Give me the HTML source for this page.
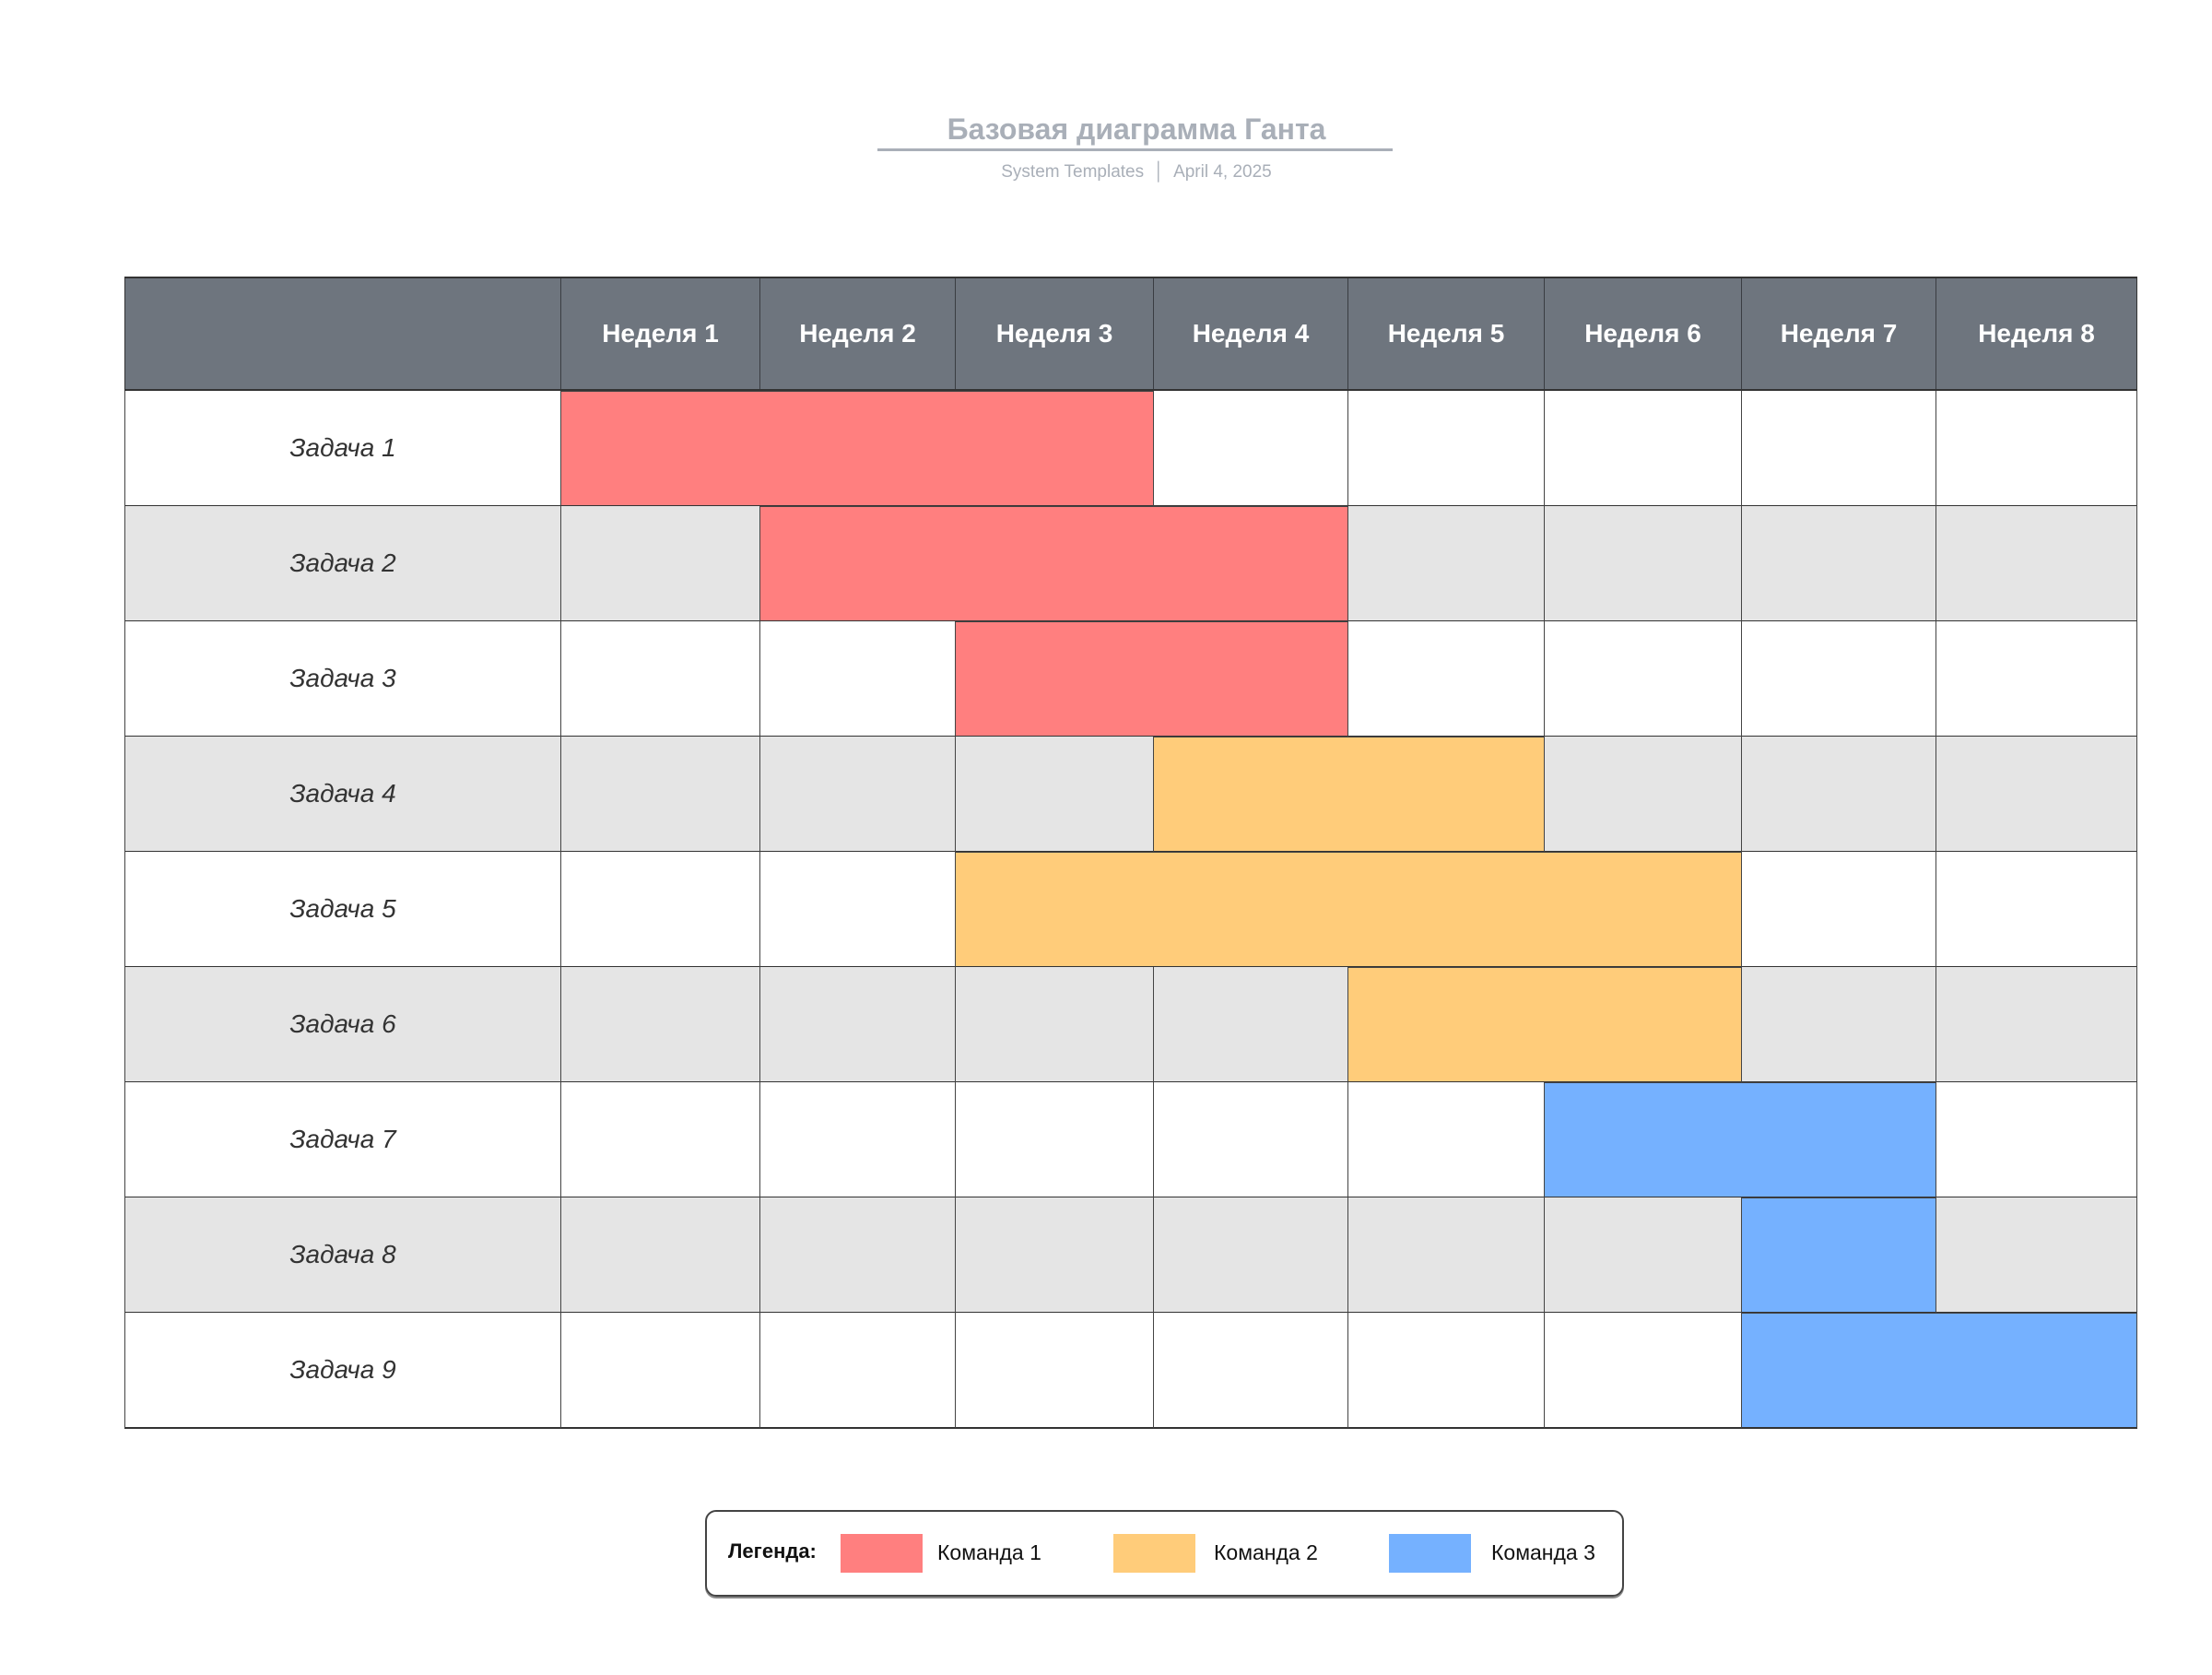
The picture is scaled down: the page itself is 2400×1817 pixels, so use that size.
<!DOCTYPE html>
<html><head><meta charset="utf-8"><style>
*{margin:0;padding:0;box-sizing:border-box}
body{width:2400px;height:1817px;background:#fff;position:relative;overflow:hidden;font-family:"Liberation Sans","DejaVu Sans",sans-serif}
.a{position:absolute}
.h{color:#fff;font-weight:bold;font-size:28px;display:flex;align-items:center;justify-content:center;border-left:1px solid #3a3d42}
.c{border-left:1px solid #444;border-bottom:2px solid #333}
.lbl{display:flex;align-items:center;justify-content:center;font-style:italic;font-size:28px;color:#333;border-left:1px solid #444;border-bottom:2px solid #333}
.t{display:flex;align-items:center;font-size:23px;color:#111}
</style></head><body>
<div class="a" style="left:0;top:122px;width:2466px;text-align:center;font-size:32px;font-weight:bold;color:#a9afb8">Базовая диаграмма Ганта</div>
<div class="a" style="left:952px;top:161px;width:559px;height:3px;background:#a9afb8"></div>
<div class="a" style="left:0;top:176px;width:2466px;text-align:center;font-size:19px;color:#a9afb8">System Templates &nbsp;│&nbsp; April 4, 2025</div>
<div id="g"></div>
<div class="a" style="left:765px;top:1638px;width:997px;height:94px;border:2px solid #444;border-radius:12px;box-shadow:0 2px 0 #888"></div>
<div class="a t" style="left:790px;top:1663px;height:40px;font-weight:bold;font-size:22px">Легенда:</div>
<div class="a" style="left:912px;top:1664px;width:89px;height:42px;background:#ff7f7f"></div>
<div class="a t" style="left:1017px;top:1664px;height:40px">Команда 1</div>
<div class="a" style="left:1208px;top:1664px;width:89px;height:42px;background:#ffcc7a"></div>
<div class="a t" style="left:1317px;top:1664px;height:40px">Команда 2</div>
<div class="a" style="left:1507px;top:1664px;width:89px;height:42px;background:#75b1ff"></div>
<div class="a t" style="left:1618px;top:1664px;height:40px">Команда 3</div>
<script>
var xs=[135,608,824,1036,1251,1462,1675,1889,2100,2318];
var top0=300,hh=124,rh=125;
var bars=[[1,3,'#ff7f7f'],[2,4,'#ff7f7f'],[3,4,'#ff7f7f'],[4,5,'#ffcc7a'],[3,6,'#ffcc7a'],[5,6,'#ffcc7a'],[6,7,'#75b1ff'],[7,7,'#75b1ff'],[7,8,'#75b1ff']];
var h='';
h+='<div class="a" style="left:135px;top:300px;width:2184px;height:'+hh+'px;background:#6e757e;border:1px solid #333;border-top:2px solid #333;border-bottom:2px solid #333"></div>';
for(var i=1;i<=8;i++)h+='<div class="a h" style="left:'+xs[i]+'px;top:302px;width:'+(xs[i+1]-xs[i])+'px;height:'+(hh-4)+'px">Неделя '+i+'</div>';
for(var r=0;r<9;r++){
 var y=top0+hh+r*rh,bg=r%2?'#e5e5e5':'#fff';
 h+='<div class="a lbl" style="left:135px;top:'+y+'px;width:473px;height:'+(rh+1)+'px;background:'+bg+'">Задача '+(r+1)+'</div>';
 for(var i=1;i<=8;i++)h+='<div class="a c" style="left:'+xs[i]+'px;top:'+y+'px;width:'+(xs[i+1]-xs[i]+(i==8?1:0))+'px;height:'+(rh+1)+'px;background:'+bg+';'+(i==8?'border-right:1px solid #444;':'')+'"></div>';
 var b=bars[r];
 h+='<div class="a" style="left:'+xs[b[0]]+'px;top:'+y+'px;width:'+(xs[b[1]+1]-xs[b[0]]+1)+'px;height:'+(rh+1)+'px;background:'+b[2]+';border:1px solid #444;border-bottom:2px solid #333"></div>';
}
document.getElementById('g').innerHTML=h;
</script>
</body></html>
